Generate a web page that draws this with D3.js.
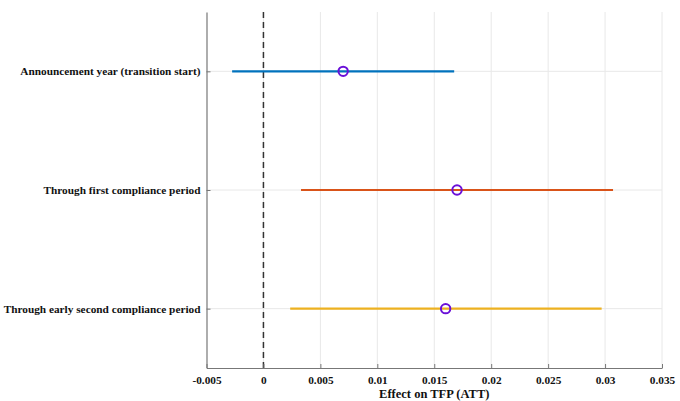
<!DOCTYPE html>
<html>
<head>
<meta charset="utf-8">
<script src="https://cdn.jsdelivr.net/npm/d3@7"></script>
<style>
body { margin: 0; background: white; }
svg { display: block; }
</style>
</head>
<body>
<div id="chart"></div>
<script>
var categories = ['Announcement year (transition start)', 'Through first compliance period', 'Through early second compliance period']
var estimates = [0.0070, 0.0170, 0.0160]
var ciLow = [-0.00275, 0.0033, 0.00235]
var ciHigh = [0.01675, 0.0307, 0.0297]
var lineColors = ['#0072BD', '#D95319', '#EDB120']
var xTicks = [-0.005, 0, 0.005, 0.01, 0.015, 0.02, 0.025, 0.03, 0.035]
var xTickLabels = ['-0.005', '0', '0.005', '0.01', '0.015', '0.02', '0.025', '0.03', '0.035']
var xLabel = 'Effect on TFP (ATT)'

var width = 680, height = 401
var margin = {top: 12, right: 18, bottom: 33, left: 206.5}
var font = '"Liberation Serif", "Times New Roman", serif'

var svg = d3.select('#chart').append('svg')
	.attr('width', width)
	.attr('height', height)

var x = d3.scaleLinear()
	.domain([-0.005, 0.035])
	.range([margin.left, width - margin.right])
var y = d3.scaleLinear()
	.domain([0.5, 3.5])
	.range([margin.top, height - margin.bottom])

var rows = categories.map(function(c, i) {
	return {name: c, est: estimates[i], lo: ciLow[i], hi: ciHigh[i], color: lineColors[i], pos: i + 1}
})

// grid
svg.append('g').selectAll('line')
	.data(xTicks.slice(1))
	.enter().append('line')
	.attr('x1', function(d) { return x(d) })
	.attr('x2', function(d) { return x(d) })
	.attr('y1', y(0.5))
	.attr('y2', y(3.5))
	.attr('stroke', '#e8e8e8')
	.attr('stroke-width', 1)
svg.append('g').selectAll('line')
	.data(rows)
	.enter().append('line')
	.attr('x1', x(-0.005))
	.attr('x2', x(0.035))
	.attr('y1', function(d) { return y(d.pos) })
	.attr('y2', function(d) { return y(d.pos) })
	.attr('stroke', '#e8e8e8')
	.attr('stroke-width', 1)

// zero line
svg.append('line')
	.attr('x1', x(0))
	.attr('x2', x(0))
	.attr('y1', y(0.5))
	.attr('y2', y(3.5))
	.attr('stroke', '#333')
	.attr('stroke-width', 1.5)
	.attr('stroke-dasharray', '6,4')

// axes
var xAxis = d3.axisBottom(x)
	.tickValues(xTicks)
	.tickFormat(function(d, i) { return xTickLabels[i] })
	.tickSizeInner(-4)
	.tickSizeOuter(0)
	.tickPadding(8)
var gx = svg.append('g')
	.attr('transform', 'translate(0,' + y(3.5) + ')')
	.call(xAxis)

var yAxis = d3.axisLeft(y)
	.tickValues([1, 2, 3])
	.tickFormat(function(d) { return categories[d - 1] })
	.tickSizeInner(-4)
	.tickSizeOuter(0)
	.tickPadding(6)
var gy = svg.append('g')
	.attr('transform', 'translate(' + x(-0.005) + ',0)')
	.call(yAxis)

;[gx, gy].forEach(function(g) {
	g.select('.domain').attr('stroke', '#777').attr('stroke-width', 1.2)
	g.selectAll('.tick line').attr('stroke', '#777')
	g.selectAll('.tick text')
		.attr('fill', '#111')
		.style('font-family', font)
		.style('font-size', '11.3px')
		.style('font-weight', 'bold')
})

svg.append('text')
	.attr('x', (x(-0.005) + x(0.035)) / 2)
	.attr('y', height - 3)
	.attr('text-anchor', 'middle')
	.attr('fill', '#111')
	.style('font-family', font)
	.style('font-size', '12.5px')
	.style('font-weight', 'bold')
	.text(xLabel)

// intervals
svg.append('g').selectAll('line')
	.data(rows)
	.enter().append('line')
	.attr('x1', function(d) { return x(d.lo) })
	.attr('x2', function(d) { return x(d.hi) })
	.attr('y1', function(d) { return y(d.pos) })
	.attr('y2', function(d) { return y(d.pos) })
	.attr('stroke', function(d) { return d.color })
	.attr('stroke-width', 2.2)

// point estimates
svg.append('g').selectAll('circle')
	.data(rows)
	.enter().append('circle')
	.attr('cx', function(d) { return x(d.est) })
	.attr('cy', function(d) { return y(d.pos) })
	.attr('r', 4.7)
	.attr('fill', 'none')
	.attr('stroke', '#6a10d8')
	.attr('stroke-width', 2)
</script>
</body>
</html>
